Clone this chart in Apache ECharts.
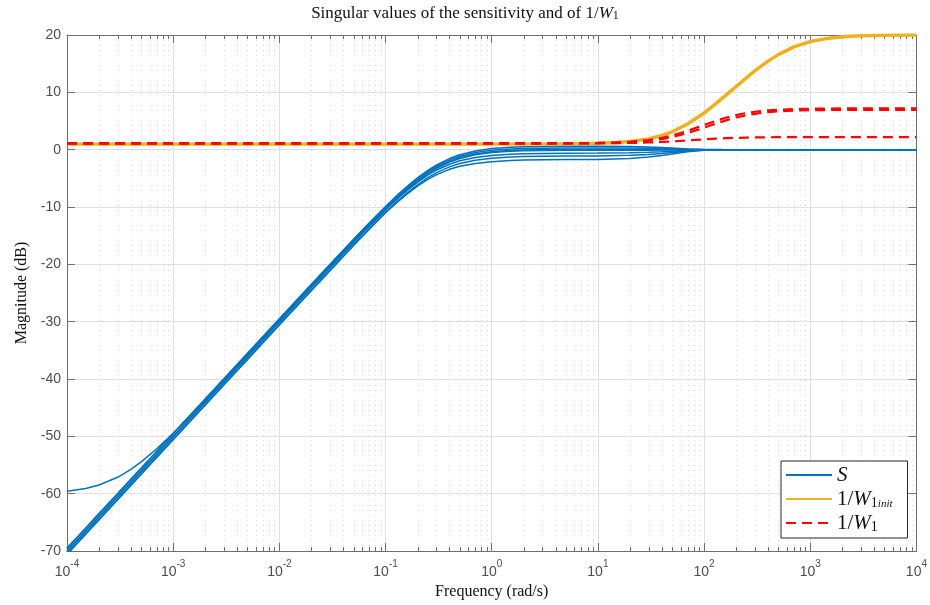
<!DOCTYPE html>
<html>
<head>
<meta charset="utf-8">
<script src="https://cdn.jsdelivr.net/npm/echarts@6/dist/echarts.min.js"></script>
<style>
html,body{margin:0;padding:0;background:#fff;}
#chart{width:930px;height:605px;}
</style>
</head>
<body>
<div id="chart"></div>
<script>
// ---- data ----
var FREQ_S = [1e-4, 1.5e-4, 2e-4, 3e-4, 4e-4, 5e-4, 7e-4, 1e-3, 1.5e-3, 2e-3, 3e-3, 5e-3, 1e-2, 2e-2, 3e-2, 5e-2, 7e-2, 0.1, 0.13, 0.16, 0.2, 0.25, 0.3, 0.4, 0.5, 0.7, 1, 1.5, 2, 5, 10, 20, 30, 40, 50, 70, 100, 150, 200, 1000, 1e4];
var S0 = [-59.57, -59.09, -58.50, -57.14, -55.76, -54.45, -52.17, -49.45, -46.14, -43.73, -40.26, -35.85, -29.85, -23.84, -20.35, -15.98, -13.16, -10.26, -8.26, -6.78, -5.32, -4.04, -3.15, -2.03, -1.39, -0.75, -0.36, -0.14, -0.06, 0.03, 0.05, 0.05, 0.04, 0.03, 0.02, 0.01, 0, 0, 0, 0, 0];
var S1 = [-69.5, -65.98, -63.48, -59.96, -57.46, -55.52, -52.6, -49.5, -45.98, -43.48, -39.96, -35.52, -29.5, -23.49, -20.0, -15.63, -12.81, -9.91, -7.89, -6.39, -4.91, -3.61, -2.7, -1.55, -0.89, -0.22, 0.19, 0.41, 0.49, 0.58, 0.6, 0.54, 0.45, 0.36, 0.27, 0.13, 0.04, 0.01, 0, 0, 0];
var S2 = [-69.6, -66.08, -63.58, -60.06, -57.56, -55.62, -52.7, -49.6, -46.08, -43.58, -40.06, -35.62, -29.6, -23.59, -20.1, -15.73, -12.91, -10.01, -8.01, -6.53, -5.07, -3.79, -2.9, -1.78, -1.14, -0.5, -0.11, 0.11, 0.19, 0.28, 0.3, 0.27, 0.23, 0.18, 0.14, 0.07, 0.02, 0, 0, 0, 0];
var S3 = [-70.0, -66.48, -63.98, -60.46, -57.96, -56.02, -53.1, -50.0, -46.48, -43.98, -40.46, -36.02, -30.0, -23.99, -20.5, -16.13, -13.31, -10.41, -8.41, -6.93, -5.47, -4.19, -3.3, -2.18, -1.54, -0.9, -0.51, -0.29, -0.21, -0.12, -0.1, -0.09, -0.08, -0.06, -0.05, -0.02, -0.01, 0, 0, 0, 0];
var S4 = [-70.1, -66.58, -64.08, -60.56, -58.06, -56.12, -53.2, -50.1, -46.58, -44.08, -40.56, -36.12, -30.1, -24.09, -20.6, -16.23, -13.41, -10.51, -8.55, -7.11, -5.69, -4.45, -3.6, -2.54, -1.94, -1.36, -1.01, -0.79, -0.71, -0.62, -0.6, -0.54, -0.45, -0.36, -0.27, -0.13, -0.04, -0.01, 0, 0, 0];
var S5 = [-70.5, -66.98, -64.48, -60.96, -58.46, -56.52, -53.6, -50.5, -46.98, -44.48, -40.96, -36.52, -30.5, -24.49, -21.0, -16.63, -13.81, -10.91, -8.96, -7.53, -6.12, -4.89, -4.05, -3.0, -2.41, -1.85, -1.51, -1.29, -1.21, -1.12, -1.1, -0.99, -0.83, -0.66, -0.5, -0.24, -0.07, -0.02, 0, 0, 0];
var S6 = [-70.6, -67.08, -64.58, -61.06, -58.56, -56.62, -53.7, -50.6, -47.08, -44.58, -41.06, -36.62, -30.6, -24.59, -21.1, -16.73, -13.91, -11.01, -9.11, -7.73, -6.37, -5.19, -4.4, -3.43, -2.89, -2.4, -2.11, -1.89, -1.81, -1.72, -1.7, -1.53, -1.28, -1.02, -0.77, -0.37, -0.1, -0.03, 0, 0, 0];

var FREQ_W = [1e-4, 1e-2, 1, 5, 10, 15, 20, 30, 40, 50, 70, 100, 130, 160, 200, 250, 300, 400, 500, 700, 1000, 1500, 2000, 3000, 5000, 1e4];
var W_INIT = [1.0, 1.0, 1.0, 1.05, 1.1, 1.23, 1.41, 1.88, 2.47, 3.12, 4.47, 6.39, 8.06, 9.46, 11.0, 12.53, 13.73, 15.44, 16.58, 17.92, 18.85, 19.45, 19.68, 19.86, 19.95, 20.0];
var W1_A = [1.1, 1.1, 1.1, 1.12, 1.17, 1.26, 1.38, 1.69, 2.06, 2.47, 3.28, 4.3, 5.04, 5.57, 6.03, 6.39, 6.61, 6.85, 6.97, 7.08, 7.14, 7.18, 7.19, 7.2, 7.2, 7.2];
var W1_B = [1.1, 1.1, 1.1, 1.11, 1.15, 1.22, 1.31, 1.55, 1.85, 2.19, 2.89, 3.83, 4.57, 5.1, 5.61, 6.0, 6.25, 6.54, 6.68, 6.81, 6.88, 6.92, 6.93, 6.94, 6.95, 6.95];
var W1_C = [1.1, 1.1, 1.1, 1.1, 1.12, 1.14, 1.17, 1.25, 1.34, 1.44, 1.61, 1.8, 1.93, 2.0, 2.06, 2.11, 2.14, 2.16, 2.18, 2.19, 2.2, 2.2, 2.2, 2.2, 2.2, 2.2];

var X_MIN = 1e-4, X_MAX = 1e4;
var Y_MIN = -70, Y_MAX = 20, Y_STEP = 10;
var MINOR_FREQ = [];
[-4, -3, -2, -1, 0, 1, 2, 3].forEach(function (e) {
  [2, 3, 4, 5, 6, 7, 8, 9].forEach(function (m) { MINOR_FREQ.push(m * Math.pow(10, e)); });
});

var TITLE_MAIN = 'Singular values of the sensitivity and of 1/';
var X_NAME = 'Frequency (rad/s)';
var Y_NAME = 'Magnitude (dB)';

function pairs(xs, ys) { return xs.map(function (x, i) { return [x, ys[i]]; }); }

var BLUE = '#0072BD', ORANGE = '#EDB120', RED = '#FF0000';
var SERIF = "'Liberation Serif', 'DejaVu Serif', serif";
var SANS = "'Liberation Sans', Arial, Helvetica, sans-serif";

var series = [];
series.push({
  type: 'custom', silent: true, z: 1, xAxisIndex: 0, yAxisIndex: 0,
  data: MINOR_FREQ.map(function (f) { return [f]; }),
  renderItem: function (params, api) {
    var f = api.value(0);
    var top = api.coord([f, Y_MAX]);
    var bot = api.coord([f, Y_MIN]);
    var x = Math.round(top[0]) + 0.5;
    return {
      type: 'group',
      children: [
        { type: 'line', shape: { x1: x, y1: top[1], x2: x, y2: bot[1] },
          style: { stroke: '#d9d9d9', lineWidth: 1, lineDash: [1, 4] } },
        { type: 'line', shape: { x1: x, y1: bot[1], x2: x, y2: bot[1] - 4 },
          style: { stroke: '#6e6e6e', lineWidth: 1 } },
        { type: 'line', shape: { x1: x, y1: top[1], x2: x, y2: top[1] + 4 },
          style: { stroke: '#6e6e6e', lineWidth: 1 } }
      ]
    };
  }
});
[S0, S1, S2, S3, S4, S5, S6].forEach(function (arr) {
  series.push({
    name: 'S', type: 'line', data: pairs(FREQ_S, arr), showSymbol: false, symbol: 'none',
    z: 3, lineStyle: { color: BLUE, width: 1.5 }, itemStyle: { color: BLUE }
  });
});
series.push({
  name: 'init', type: 'line', data: pairs(FREQ_W, W_INIT), symbol: 'none',
  z: 4, lineStyle: { color: ORANGE, width: 3.5 }, itemStyle: { color: ORANGE }
});
[W1_A, W1_B, W1_C].forEach(function (arr) {
  series.push({
    name: 'W1', type: 'line', data: pairs(FREQ_W, arr), symbol: 'none',
    z: 5, lineStyle: { color: RED, width: 2.2, type: [10, 6] }, itemStyle: { color: RED }
  });
});

var axisCol = '#6e6e6e';
var xBase = {
  type: 'log', logBase: 10, min: X_MIN, max: X_MAX, gridIndex: 0,
  axisLine: { show: true, onZero: false, lineStyle: { color: axisCol, width: 1 } },
  axisTick: { show: true, inside: true, length: 8, lineStyle: { color: axisCol } }
};
var yBase = {
  type: 'value', min: Y_MIN, max: Y_MAX, interval: Y_STEP, gridIndex: 0,
  axisLine: { show: true, onZero: false, lineStyle: { color: axisCol, width: 1 } },
  axisTick: { show: true, inside: true, length: 8, lineStyle: { color: axisCol } }
};

var option = {
  backgroundColor: '#ffffff',
  animation: false,
  title: {
    text: '{n|' + TITLE_MAIN + '}{it|W}{sub|1}',
    left: 'center', top: -5,
    textStyle: {
      fontWeight: 'normal',
      rich: {
        n: { fontFamily: SERIF, fontSize: 17, fontWeight: 'normal', color: '#111', lineHeight: 22, verticalAlign: 'bottom' },
        it: { fontFamily: SERIF, fontSize: 17, fontWeight: 'normal', fontStyle: 'italic', color: '#111', lineHeight: 22, verticalAlign: 'bottom' },
        sub: { fontFamily: SERIF, fontSize: 12, fontWeight: 'normal', color: '#111', lineHeight: 22, verticalAlign: 'bottom' }
      }
    }
  },
  grid: { left: 67, right: 11, top: 35, bottom: 54, containLabel: false },
  legend: {
    data: ['S', 'init', 'W1'],
    orient: 'vertical', left: 781, top: 461,
    backgroundColor: '#ffffff', borderColor: '#262626', borderWidth: 1, borderRadius: 0,
    padding: [4, 15, 4, 4], itemGap: 3, itemWidth: 46, itemHeight: 14,
    selectedMode: false,
    itemStyle: { opacity: 0 },
    formatter: function (name) {
      if (name === 'S') return '{it|S}';
      if (name === 'init') return '{n|1/}{it|W}{sub|1}{ss|init}';
      return '{n|1/}{it|W}{sub|1}';
    },
    textStyle: {
      rich: {
        n: { fontFamily: SERIF, fontSize: 21, color: '#111', lineHeight: 22, verticalAlign: 'bottom' },
        it: { fontFamily: SERIF, fontSize: 21, fontStyle: 'italic', color: '#111', lineHeight: 22, verticalAlign: 'bottom' },
        sub: { fontFamily: SERIF, fontSize: 14, color: '#111', lineHeight: 22, verticalAlign: 'bottom' },
        ss: { fontFamily: SERIF, fontSize: 11, fontStyle: 'italic', color: '#111', lineHeight: 18, verticalAlign: 'bottom' }
      }
    }
  },
  xAxis: [
    Object.assign({}, xBase, {
      position: 'bottom',
      name: X_NAME, nameLocation: 'middle', nameGap: 30,
      nameTextStyle: { fontFamily: SERIF, fontSize: 16, color: '#111' },
      axisLabel: {
        show: true, margin: 8,
        formatter: function (v) {
          var e = Math.round(Math.log(v) / Math.LN10);
          return '{b|10}{s|' + e + '}';
        },
        rich: {
          b: { fontFamily: SANS, fontSize: 14, color: '#4d4d4d', verticalAlign: 'bottom', lineHeight: 20 },
          s: { fontFamily: SANS, fontSize: 10, color: '#4d4d4d', verticalAlign: 'top', lineHeight: 20 }
        }
      },
      splitLine: { show: true, lineStyle: { color: '#e0e0e0', width: 1 } }
    }),
    Object.assign({}, xBase, { position: 'top', axisLabel: { show: false }, splitLine: { show: false } })
  ],
  yAxis: [
    Object.assign({}, yBase, {
      position: 'left',
      name: Y_NAME, nameLocation: 'middle', nameGap: 37,
      nameTextStyle: { fontFamily: SERIF, fontSize: 16, color: '#111' },
      axisLabel: { show: true, margin: 6, fontFamily: SANS, fontSize: 14, color: '#4d4d4d' },
      splitLine: { show: true, lineStyle: { color: '#e0e0e0', width: 1 } }
    }),
    Object.assign({}, yBase, { position: 'right', axisLabel: { show: false }, splitLine: { show: false } })
  ],
  series: series
};

var chart = echarts.init(document.getElementById('chart'), null, { renderer: 'canvas' });
chart.setOption(option);
</script>
</body>
</html>
